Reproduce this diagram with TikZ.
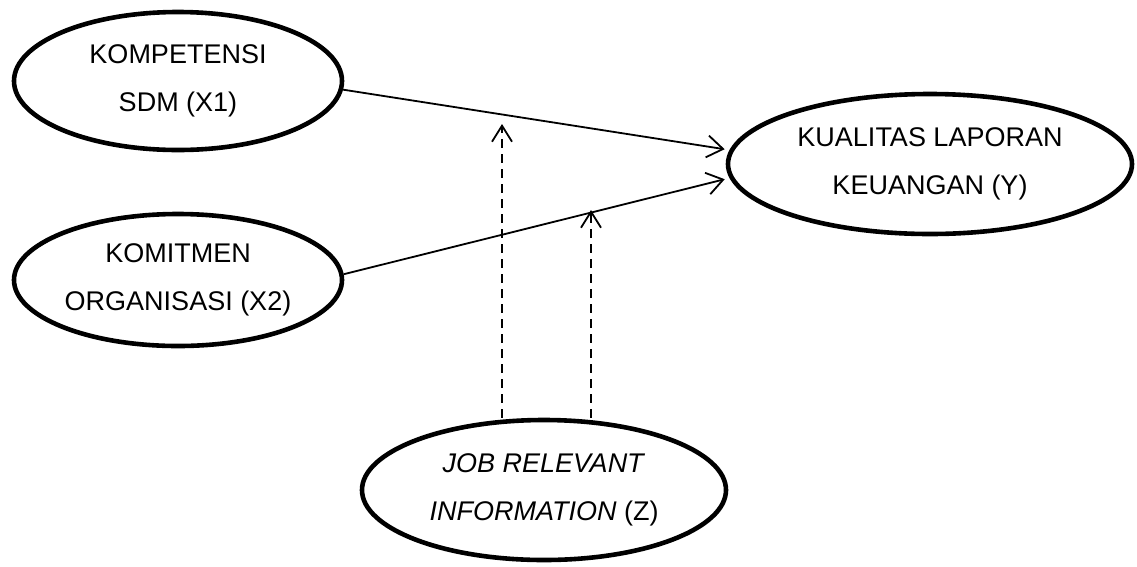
\documentclass[tikz,border=0pt]{standalone}
\usepackage{fontspec}
\setmainfont{Liberation Sans}
\usetikzlibrary{shapes.geometric,arrows.meta}
\tikzset{
  var/.style={ellipse, draw, line width=4.6pt, inner sep=0pt, align=center,
    font=\fontsize{27}{48}\selectfont},
  path/.style={line width=1.8pt, -{Straight Barb[length=16pt,width=22pt,line width=1.8pt]}},
  mod/.style={line width=2.2pt, dash pattern=on 9pt off 6pt, -{Straight Barb[length=16pt,width=20pt,line width=1.8pt]}}
}
\begin{document}
\begin{tikzpicture}[x=1pt,y=-1pt]
\useasboundingbox (0,0) rectangle (1137,566);
\node[var, minimum width=328pt, minimum height=138pt] (x1) at (178,81) {KOMPETENSI\\SDM (X1)};
\node[var, minimum width=328pt, minimum height=132pt] (x2) at (178,280) {KOMITMEN\\ORGANISASI (X2)};
\node[var, minimum width=404pt, minimum height=140pt] (y) at (930,164) {KUALITAS LAPORAN\\KEUANGAN (Y)};
\node[var, minimum width=364pt, minimum height=140pt] (z) at (544,490) {\textit{JOB RELEVANT}\\\textit{INFORMATION} (Z)};
\coordinate (d1) at (502,124);
\coordinate (d2) at (591,210);
\draw[path, shorten >=5pt] (x1.-3) -- (y.176);
\draw[path, shorten >=5pt] (x2.2) -- (y.184);
\draw[mod] (z.north -| d1) -- (d1);
\draw[mod] (z.north -| d2) -- (d2);
\end{tikzpicture}
\end{document}
